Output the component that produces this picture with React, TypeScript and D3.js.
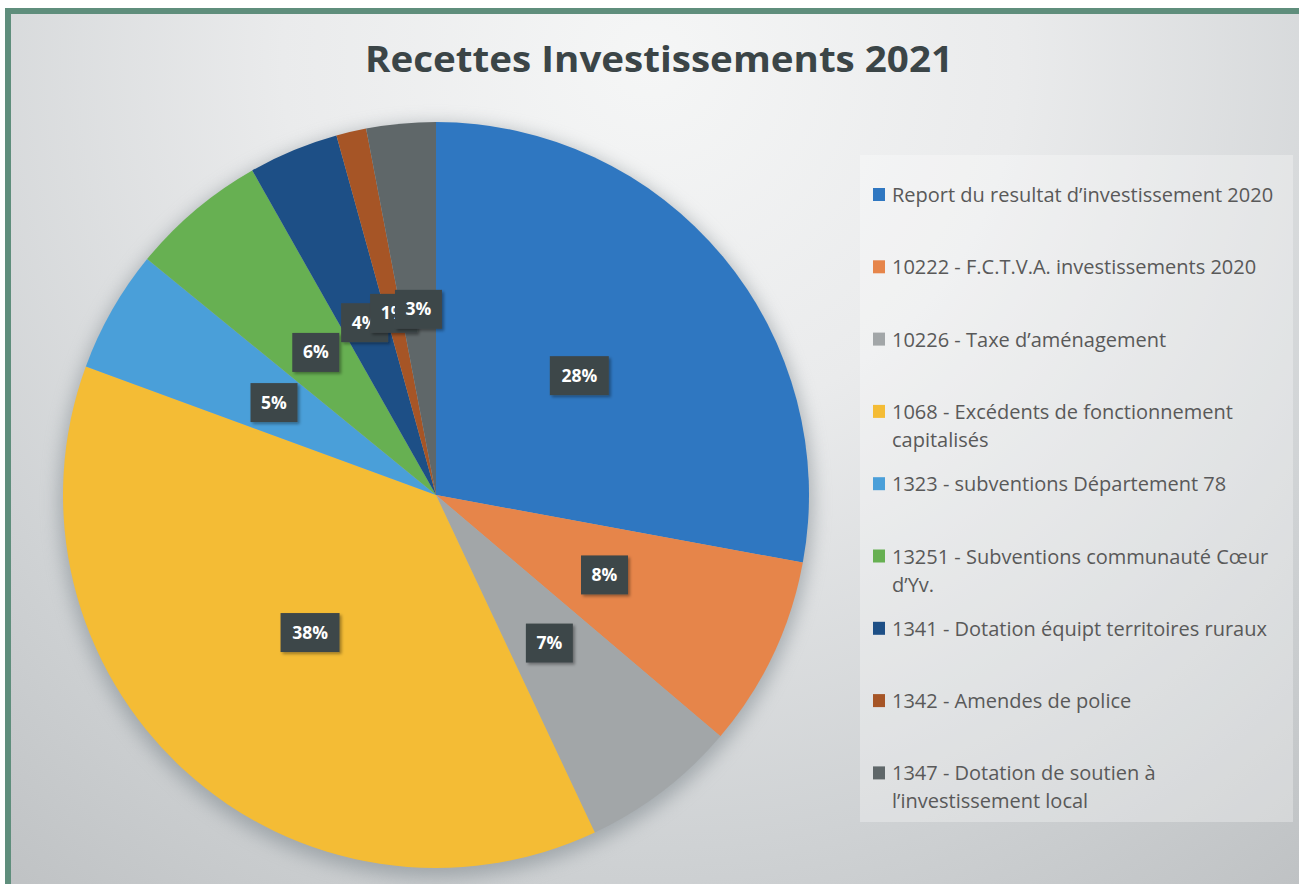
import React from 'react';
import * as d3 from 'd3';

const title = 'Recettes Investissements 2021';
const categories = [
  'Report du resultat d’investissement 2020',
  '10222 - F.C.T.V.A. investissements 2020',
  '10226 - Taxe d’aménagement',
  '1068 - Excédents de fonctionnement\ncapitalisés',
  '1323 - subventions Département 78',
  '13251 - Subventions communauté Cœur\nd’Yv.',
  '1341 - Dotation équipt territoires ruraux',
  '1342 - Amendes de police',
  '1347 - Dotation de soutien à\nl’investissement local',
];
const shares = [27.9, 8.3, 6.8, 37.6, 5.3, 5.9, 3.9, 1.3, 3.0];
const colors = ['#2f77c1', '#e6854a', '#a2a6a8', '#f4bc35', '#4a9fd9', '#67b052', '#1d4f86', '#a65526', '#5f6769'];

const W = 1299;
const H = 884;
const cx = 436;
const cy = 495;
const R = 373;

export default function App() {
  const total = d3.sum(shares);
  const pie = d3.pie<number>().sort(null).value((d) => d)(shares);
  const arc = d3.arc<d3.PieArcDatum<number>>().innerRadius(0).outerRadius(R);
  const pct = d3.format('.0%');

  const legendStep = 72.3;
  const legendY0 = 195;

  return (
    <svg width={W} height={H} style={{ position: 'absolute', left: 0, top: 0 }}>
      <defs>
        <radialGradient id="bg" cx="650" cy="60" r="1050" gradientUnits="userSpaceOnUse">
          <stop offset="0" stopColor="#f5f6f6" />
          <stop offset="0.35" stopColor="#eaebec" />
          <stop offset="0.75" stopColor="#cfd2d4" />
          <stop offset="1" stopColor="#bfc2c4" />
        </radialGradient>
        <filter id="pieShadow" x="-20%" y="-20%" width="140%" height="140%">
          <feGaussianBlur stdDeviation="9" />
        </filter>
        <filter id="boxShadow" x="-30%" y="-30%" width="160%" height="160%">
          <feDropShadow dx="2" dy="2" stdDeviation="1.5" floodColor="#000" floodOpacity="0.35" />
        </filter>
      </defs>

      <rect x={0} y={0} width={W} height={H} fill="#ffffff" />
      <rect x={8} y={11} width={W - 8} height={H - 11} fill="url(#bg)" />
      {/* frame */}
      <rect x={5} y={8} width={W - 5} height={6} fill="#5f8e7c" />
      <rect x={5} y={8} width={6} height={H - 8} fill="#5f8e7c" />

      <text
        x={659}
        y={72}
        textAnchor="middle"
        fontFamily="'Open Sans', sans-serif"
        fontWeight="bold"
        fontSize={35}
        fill="#3b4547"
        textLength={588}
        lengthAdjust="spacingAndGlyphs"
      >
        {title}
      </text>

      <g transform={`translate(${cx},${cy})`}>
        <circle cx={0} cy={6} r={R + 4} fill="#7d868c" opacity={0.55} filter="url(#pieShadow)" />
        {pie.map((d, i) => (
          <path key={i} d={arc(d) ?? ''} fill={colors[i]} />
        ))}
        {pie.map((d, i) => {
          const [lx, ly] = arc.centroid(d);
          const label = pct(d.value / total);
          const bw = 12 * label.length + 23;
          const bh = 39;
          return (
            <g key={i} transform={`translate(${lx},${ly})`}>
              <rect x={-bw / 2} y={-bh / 2} width={bw} height={bh} fill="#3e4749" filter="url(#boxShadow)" />
              <text
                x={0}
                y={6}
                textAnchor="middle"
                fontFamily="'Open Sans', sans-serif"
                fontWeight="bold"
                fontSize={17.5}
                fill="#ffffff"
              >
                {label}
              </text>
            </g>
          );
        })}
      </g>

      <rect x={860} y={155} width={433} height={667} fill="#ffffff" opacity={0.3} />
      <g fontFamily="'Open Sans', sans-serif" fontSize={20} fill="#595959">
        {categories.map((c, i) => {
          const y = legendY0 + i * legendStep;
          return (
            <g key={i}>
              <rect x={873} y={y - 7} width={12} height={13} fill={colors[i]} />
              {c.split('\n').map((line, j) => (
                <text key={j} x={892} y={y + 7 + j * 28}>
                  {line}
                </text>
              ))}
            </g>
          );
        })}
      </g>
    </svg>
  );
}
